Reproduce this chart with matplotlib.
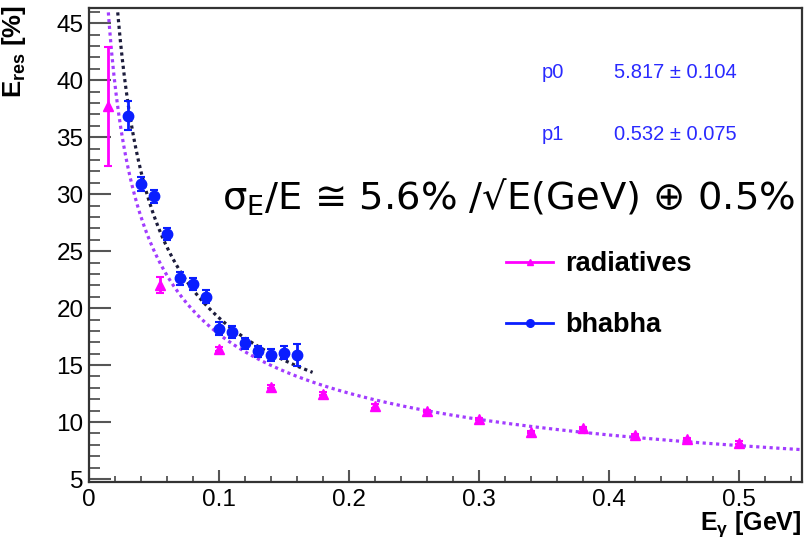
import numpy as np
import matplotlib
matplotlib.use('Agg')
import matplotlib.pyplot as plt
from matplotlib.ticker import MultipleLocator
from matplotlib.lines import Line2D

# ---------------- data ----------------
rad_x = [0.015, 0.055, 0.10, 0.14, 0.18, 0.22, 0.26, 0.30, 0.34, 0.38, 0.42, 0.46, 0.50]
rad_y = [37.7, 22.0, 16.4, 13.1, 12.5, 11.4, 11.0, 10.3, 9.15, 9.5, 8.85, 8.5, 8.2]
rad_err = [5.2, 0.7, 0.2, 0.15, 0.15, 0.15, 0.1, 0.1, 0.1, 0.1, 0.1, 0.1, 0.1]

bha_x = [0.03, 0.04, 0.05, 0.06, 0.07, 0.08, 0.09, 0.10, 0.11, 0.12, 0.13, 0.14, 0.15, 0.16]
bha_y = [36.9, 30.9, 29.8, 26.5, 22.6, 22.1, 21.0, 18.2, 17.9, 16.9, 16.2, 15.9, 16.1, 15.9]
bha_err = [1.3, 0.6, 0.6, 0.55, 0.6, 0.55, 0.55, 0.55, 0.5, 0.45, 0.5, 0.5, 0.6, 0.95]

# fit parameters shown in the stat box (bhabha fit)
fit_p0, fit_p0_err = 5.817, 0.104
fit_p1, fit_p1_err = 0.532, 0.075
fit_bha_range = (0.015, 0.172)

# resolution parametrisation quoted on the plot (radiatives curve)
res_stoch, res_const = 5.6, 0.5
fit_rad_range = (0.012, 0.55)

x_limits = (0.0, 0.5485)
y_limits = (4.74, 46.34)

series_labels = ['radiatives', 'bhabha']
formula_text = r'σ$_\mathregular{E}$/E ≅ 5.6% /√E(GeV) ⊕ 0.5%'

# ---------------- style ----------------
plt.rcParams['font.family'] = ['Liberation Sans', 'DejaVu Sans']
plt.rcParams['mathtext.fontset'] = 'custom'
plt.rcParams['mathtext.rm'] = 'Liberation Sans'
plt.rcParams['mathtext.bf'] = 'Liberation Sans:bold'
plt.rcParams['mathtext.it'] = 'Liberation Sans:italic'

W, H, DPI = 805, 539, 100
fig = plt.figure(figsize=(W / DPI, H / DPI), dpi=DPI)
L, R, T, B = 89, 802, 8, 482
ax = fig.add_axes([L / W, 1 - B / H, (R - L) / W, (B - T) / H])

MAG = '#ff00ff'
BLUE = '#0a1eff'
VIOL = '#a23cff'
DARK = '#1c1c3c'

# fit curves
xr = np.linspace(*fit_rad_range, 600)
ax.plot(xr, np.sqrt(res_stoch ** 2 / xr + res_const ** 2), color=VIOL,
        lw=2.3, linestyle=(0, (1.0, 1.1)), zorder=2)
xb = np.linspace(*fit_bha_range, 400)
ax.plot(xb, np.sqrt(fit_p0 ** 2 / xb + fit_p1 ** 2 / xb ** 2), color=DARK,
        lw=2.3, linestyle=(0, (1.0, 1.1)), zorder=2)

# data
ax.errorbar(rad_x, rad_y, yerr=rad_err, fmt='^', color=MAG, ms=7.5,
            elinewidth=2, capsize=3, capthick=1.5, zorder=3)
ax.errorbar(bha_x, bha_y, yerr=bha_err, fmt='o', color=BLUE, ms=7.5,
            elinewidth=2, capsize=3, capthick=1.5, zorder=4)

ax.set_xlim(*x_limits)
ax.set_ylim(*y_limits)

ax.xaxis.set_major_locator(MultipleLocator(0.1))
ax.xaxis.set_minor_locator(MultipleLocator(0.02))
ax.yaxis.set_major_locator(MultipleLocator(5))
ax.yaxis.set_minor_locator(MultipleLocator(1))
ax.xaxis.set_major_formatter(matplotlib.ticker.FuncFormatter(
    lambda v, p: '0' if abs(v) < 1e-9 else f'{v:g}'))

for s in ax.spines.values():
    s.set_color('#333333')
    s.set_linewidth(1.6)

ax.tick_params(axis='both', which='both', direction='in', colors='#555555',
               labelcolor='black', labelsize=17.5)
ax.tick_params(axis='y', which='major', length=15.5, width=1.5, pad=4)
ax.tick_params(axis='y', which='minor', length=8, width=1.3)
ax.tick_params(axis='x', which='major', length=9, width=1.5, pad=5)
ax.tick_params(axis='x', which='minor', length=4.5, width=1.3)

ax.set_ylabel('E$_\\mathbf{res}$ [%]', fontsize=18.5, fontweight='bold', loc='top')
ax.yaxis.set_label_coords(-0.085, 1.007)
ax.set_xlabel('E$_\\mathregular{γ}$ [GeV]', fontsize=18, fontweight='bold', loc='right')
ax.xaxis.set_label_coords(1.0, -0.058)

# stat box (no frame)
stat_col = '#2a2aff'
fs_stat = 14.5
fig.text(542 / W, 1 - 72 / H, 'p0', color=stat_col, fontsize=fs_stat, va='center', ha='left')
fig.text(614 / W, 1 - 72 / H, f'{fit_p0:.3f} ± {fit_p0_err:.3f}', color=stat_col,
         fontsize=fs_stat, va='center', ha='left')
fig.text(542 / W, 1 - 134 / H, 'p1', color=stat_col, fontsize=fs_stat, va='center', ha='left')
fig.text(614 / W, 1 - 134 / H, f'{fit_p1:.3f} ± {fit_p1_err:.3f}', color=stat_col,
         fontsize=fs_stat, va='center', ha='left')

# formula annotation, scaled to its width in the reference
ftxt = fig.text(222 / W, 1 - 197 / H, formula_text, fontsize=26, va='center', ha='left',
                family=['DejaVu Sans'], color='black')
fig.canvas.draw()
bb = ftxt.get_window_extent()
ftxt.set_fontsize(26 * (795 - 222) / bb.width)

# legend (line + marker samples, ROOT "lp" style)
handles = [Line2D([], [], color=MAG, marker='^', ms=5, lw=2),
           Line2D([], [], color=BLUE, marker='o', ms=5.5, lw=2)]
ax.legend(handles=handles, labels=series_labels, loc='upper left',
          bbox_to_anchor=(506 / W, 1 - 251 / H), bbox_transform=fig.transFigure,
          frameon=False, prop={'weight': 'bold', 'size': 19.5},
          handlelength=1.75, handletextpad=0.45, labelspacing=1.3,
          borderaxespad=0, borderpad=0)

fig.savefig('out.png', dpi=DPI)
